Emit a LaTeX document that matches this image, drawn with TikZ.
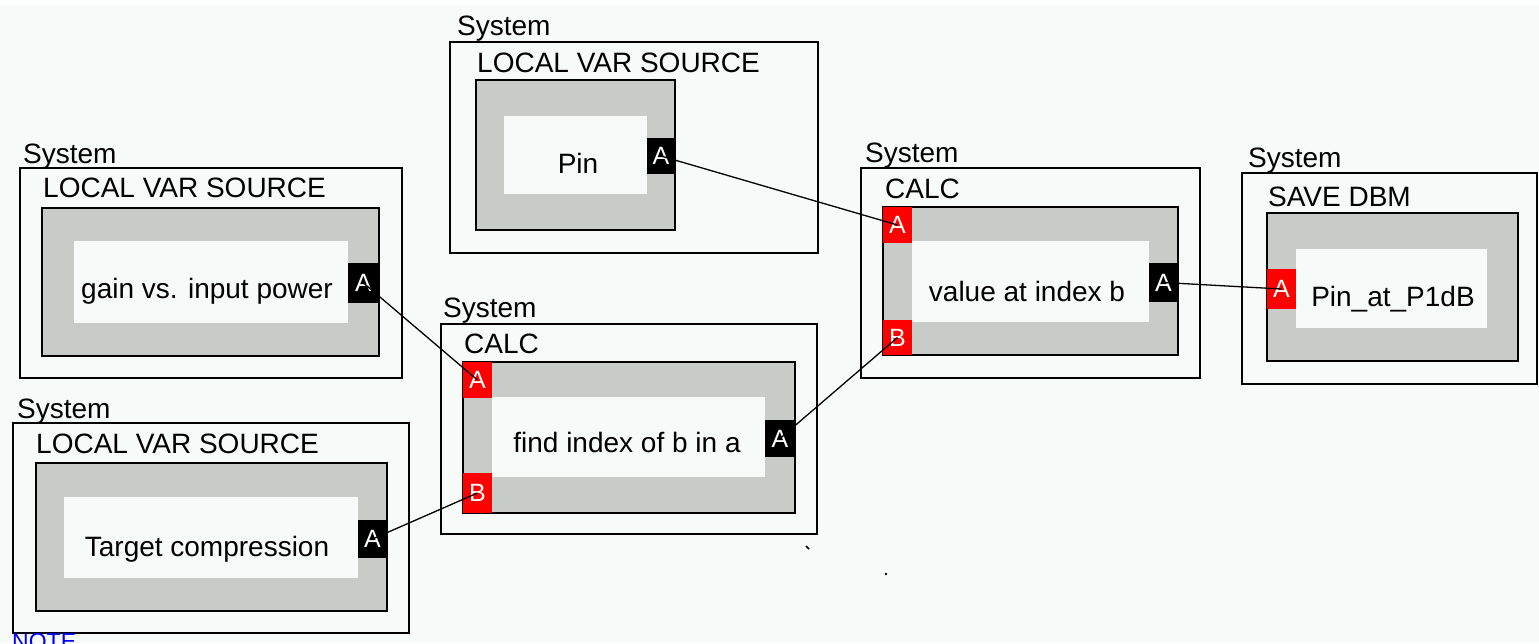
\documentclass[tikz,border=0pt]{standalone}
\usepackage{fontspec}
\setmainfont{Liberation Sans}
\usetikzlibrary{fit}
\definecolor{bg}{RGB}{246,250,248}
\definecolor{panel}{RGB}{200,204,200}
\definecolor{portred}{RGB}{255,0,0}
\definecolor{linkblue}{RGB}{0,0,255}

\tikzset{
  sysbox/.style={draw=black, line width=2pt, fill=bg, inner sep=0pt},
  panelbox/.style={draw=black, line width=2pt, fill=panel, inner sep=0pt},
  facebox/.style={fill=bg, draw=none, inner sep=0pt},
  portlbl/.style={text=white, inner sep=0pt, font=\fontsize{25}{27}\selectfont},
  inport/.style={fill=portred, inner sep=0pt, label={[portlbl]center:#1}},
  outport/.style={fill=black, inner sep=0pt, label={[portlbl]center:#1}},
  lbl/.style={font=\fontsize{28}{30}\selectfont, inner sep=0pt},
  wire/.style={draw=black, line width=1.3pt},
}

\begin{document}
\begin{tikzpicture}[x=1pt, y=-1pt]
\useasboundingbox (0,0) rectangle (1539,643);
\clip (0,0) rectangle (1539,643);
\fill[bg] (0,0) rectangle (1539,643);
\fill[white] (0,0) rectangle (1539,5);

% --- source block: Pin ---
\node[sysbox, fit={(450,42)(818,253)}] (pinSys) {};
\node[lbl, anchor=base west] (pinSysT) at (457,35) {System};
\node[lbl, anchor=base west] (pinKind) at (477,72) {LOCAL VAR SOURCE};
\node[panelbox, fit={(476,80)(675,230)}] (pinPanel) {};
\node[facebox, fit={(504,116)(647,194)}] (pinFace) {};
\node[outport=A, fit={(647,138)(675,174)}] (pinA) {};
\node[lbl, anchor=base] (pinName) at (578,173) {Pin};

% --- source block: gain vs. input power ---
\node[sysbox, fit={(20,168)(402,378)}] (gainSys) {};
\node[lbl, anchor=base west] (gainSysT) at (23,163) {System};
\node[lbl, anchor=base west] (gainKind) at (43,197) {LOCAL VAR SOURCE};
\node[panelbox, fit={(42,208)(379,356)}] (gainPanel) {};
\node[facebox, fit={(74,241)(348,323)}] (gainFace) {};
\node[outport=A, fit={(348,263)(379,303)}] (gainA) {};
\node[lbl, anchor=base] (gainName) at (207,298) {gain vs. input power};

% --- source block: Target compression ---
\node[sysbox, fit={(13,423)(409,633)}] (tgtSys) {};
\node[lbl, anchor=base west] (tgtSysT) at (17,418) {System};
\node[lbl, anchor=base west] (tgtKind) at (36,453) {LOCAL VAR SOURCE};
\node[panelbox, fit={(36,463)(387,611)}] (tgtPanel) {};
\node[facebox, fit={(64,497)(358,578)}] (tgtFace) {};
\node[outport=A, fit={(358,520)(387,558)}] (tgtA) {};
\node[lbl, anchor=base] (tgtName) at (207,556) {Target compression};

% --- calc block: find index of b in a ---
\node[sysbox, fit={(441,324)(817,534)}] (findSys) {};
\node[lbl, anchor=base west] (findSysT) at (443,317) {System};
\node[lbl, anchor=base west] (findKind) at (464,353) {CALC};
\node[panelbox, fit={(463,362)(795,513)}] (findPanel) {};
\node[facebox, fit={(492,397)(765,477)}] (findFace) {};
\node[inport=A, fit={(463,362)(492,398)}] (findInA) {};
\node[inport=B, fit={(463,473)(492,513)}] (findInB) {};
\node[outport=A, fit={(765,420)(795,457)}] (findA) {};
\node[lbl, anchor=base] (findName) at (627,452) {find index of b in a};

% --- calc block: value at index b ---
\node[sysbox, fit={(861,168)(1200,378)}] (valSys) {};
\node[lbl, anchor=base west] (valSysT) at (865,162) {System};
\node[lbl, anchor=base west] (valKind) at (885,198) {CALC};
\node[panelbox, fit={(883,207)(1178,355)}] (valPanel) {};
\node[facebox, fit={(912,241)(1149,322)}] (valFace) {};
\node[inport=A, fit={(883,207)(912,243)}] (valInA) {};
\node[inport=B, fit={(883,320)(912,355)}] (valInB) {};
\node[outport=A, fit={(1149,263)(1178,302)}] (valA) {};
\node[lbl, anchor=base] (valName) at (1027,301) {value at index b};

% --- sink block: Pin_at_P1dB ---
\node[sysbox, fit={(1242,173)(1537,384)}] (saveSys) {};
\node[lbl, anchor=base west] (saveSysT) at (1248,167) {System};
\node[lbl, anchor=base west] (saveKind) at (1268,206) {SAVE DBM};
\node[panelbox, fit={(1267,213)(1518,361)}] (savePanel) {};
\node[facebox, fit={(1296,249)(1487,328)}] (saveFace) {};
\node[inport=A, fit={(1267,269)(1296,309)}] (saveInA) {};
\node[lbl, anchor=base] (saveName) at (1393,306) {Pin\_at\_P1dB};

% --- wires ---
\draw[wire] (pinA.center) -- (valInA.center);
\draw[wire] (gainA.center) -- (findInA.center);
\draw[wire] (tgtA.center) -- (findInB.center);
\draw[wire] (findA.center) -- (valInB.center);
\draw[wire] (valA.center) -- (saveInA.center);

% stray marks
\draw[line width=1.5pt] (806,546) -- (809,549);
\fill (886,574) circle (1.4);

% link text running off the lower edge
\node[anchor=north west, inner sep=0pt, text=linkblue, font=\fontsize{23}{25}\selectfont] (note) at (12,633) {NOTE};
\end{tikzpicture}
\end{document}
